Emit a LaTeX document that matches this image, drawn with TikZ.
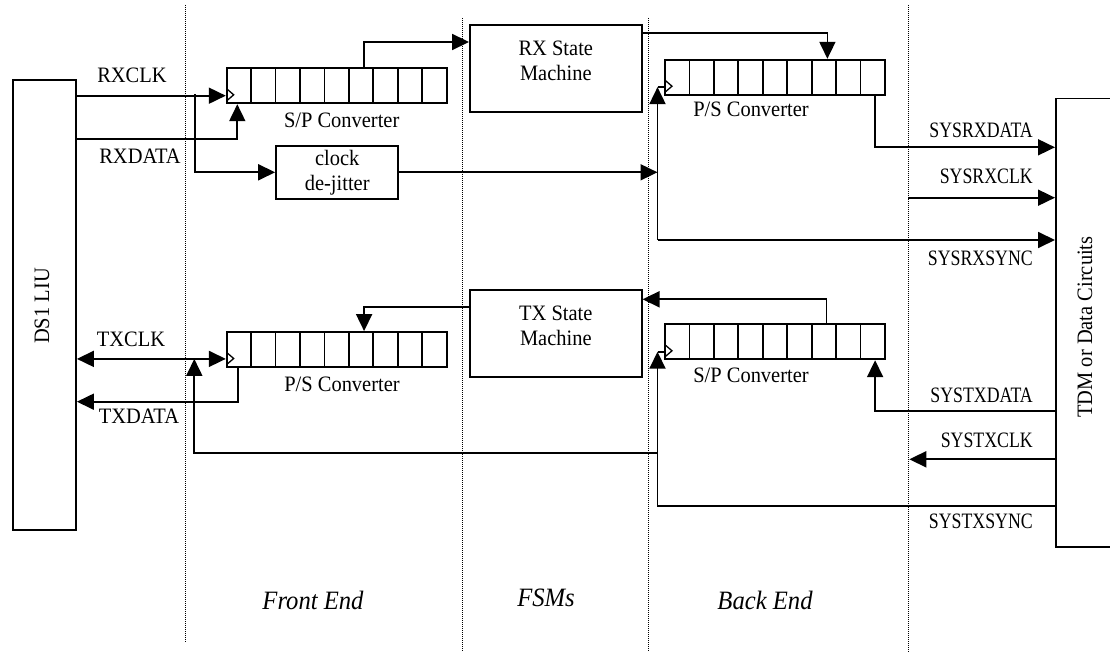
\documentclass[tikz,border=0pt]{standalone}
\usepackage{fontspec}
\setmainfont{Liberation Serif}[FakeStretch=0.93]
\usetikzlibrary{arrows.meta}
\definecolor{ink}{HTML}{000000}
\tikzset{
  lbl/.style={font=\fontsize{22}{25}\selectfont, text=ink, inner sep=0pt},
  syslbl/.style={lbl, anchor=east},
  sect/.style={font=\itshape\fontsize{26.5}{29}\selectfont, text=ink, inner sep=0pt},
  box/.style={draw=ink, line width=1.8pt, inner sep=0pt},
  reg/.style={box, minimum width=220pt, minimum height=35pt,
    path picture={
      \foreach \k in {1,...,8}
        \draw[line width=1.8pt] ([xshift=\k*220pt/9]path picture bounding box.south west) -- ([xshift=\k*220pt/9]path picture bounding box.north west);
      \draw[line width=1.3pt] ([yshift=2.5pt]path picture bounding box.south west) -- ([xshift=7pt,yshift=8.5pt]path picture bounding box.south west) -- ([yshift=14.5pt]path picture bounding box.south west);
    }},
  wire/.style={draw=ink, line width=1.8pt},
  sig/.style={wire, -{Triangle[length=17pt,width=16pt]}},
  both/.style={wire, {Triangle[length=17pt,width=16pt]}-{Triangle[length=17pt,width=16pt]}},
  zone/.style={draw=ink, line width=0.9pt, dash pattern=on 1pt off 1pt}
}
\newcommand{\cond}[1]{\scalebox{0.87}[1]{#1}}

\begin{document}
\begin{tikzpicture}[x=1pt,y=-1pt]
\useasboundingbox (0,0) rectangle (1110,652);

% zone dividers
\draw[zone] (185.7,5) -- (185.7,643);
\draw[zone] (462.5,18) -- (462.5,652);
\draw[zone] (648.7,18) -- (648.7,652);
\draw[zone] (908.3,5) -- (908.3,652);

% line side and system side
\node[box, minimum width=63pt, minimum height=450pt] (ds1) at (44.5,305) {};
\node[lbl, rotate=90] (ds1txt) at (42,306) {DS1 LIU};
\node[box, anchor=north west, minimum width=80pt, minimum height=448.3pt] (tdm) at (1055,97.7) {};
\node[lbl, rotate=90] (tdmtxt) at (1085,327) {TDM or Data Circuits};

% shift registers
\node[reg] (rxsp) at (336.7,85.8) {};
\node[reg] (rxps) at (775,77.2) {};
\node[reg] (txps) at (336.7,349.5) {};
\node[reg] (txsp) at (775,341.8) {};
\node[lbl] (rxsplbl) at (341.7,120) {S/P Converter};
\node[lbl] (rxpslbl) at (751,109) {P/S Converter};
\node[lbl] (txpslbl) at (342,384) {P/S Converter};
\node[lbl] (txsplbl) at (751,375) {S/P Converter};

% state machines and de-jitter
\node[box, minimum width=171.7pt, minimum height=86.7pt] (rxsm) at (555.8,68.3) {};
\node[lbl, align=center] (rxsmtxt) at (555.8,61) {RX State\\Machine};
\node[box, minimum width=171.7pt, minimum height=87.3pt] (txsm) at (555.8,333.7) {};
\node[lbl, align=center] (txsmtxt) at (555.8,325.5) {TX State\\Machine};
\node[box, lbl, minimum width=122.3pt, minimum height=53.3pt, align=center] (jit) at (337.2,172.3) {clock\\de-jitter};

% pins and bends
\coordinate (rxspclk) at ([yshift=8.5pt]rxsp.south west);
\coordinate (rxpsclk) at ([yshift=8.5pt]rxps.south west);
\coordinate (txpsclk) at ([yshift=9pt]txps.south west);
\coordinate (txspclk) at ([yshift=8.5pt]txsp.south west);
\coordinate (rxtap) at (195,94.3);
\coordinate (rxdbend) at (237.3,139);
\coordinate (rxbus) at (657.5,240);
\coordinate (rxclkfree) at (908.3,197.7);
\coordinate (txdbend) at (238.3,401.7);
\coordinate (txtap) at (657.5,452.7);
\coordinate (txup) at (194.3,452.7);
\coordinate (txbus) at (657.5,506);
\coordinate (txclkfree) at (909.3,459.3);
\coordinate (sysrxdata) at (1055,147.3);
\coordinate (sysrxclk) at (1055,197.7);
\coordinate (systxdata) at (1055,411);
\coordinate (systxclk) at (1055,459.3);
\coordinate (systxsync) at (1055,506);

% receive path
\draw[sig] (ds1.east |- rxspclk) -- (rxspclk);
\draw[sig] (ds1.east |- rxdbend) -| (rxsp.south west -| rxdbend);
\draw[sig] (rxtap) |- (jit.west);
\draw[sig] (jit.east) -- (jit.east -| rxbus);
\draw[sig] (rxbus) -- (rxbus |- rxpsclk);
\draw[wire] (rxbus |- rxpsclk) -- (rxpsclk);
\draw[sig] (rxbus) -- (rxbus -| tdm.west);
\draw[sig] ([xshift=138.3pt]rxsp.north west) |- ([yshift=26.3pt]rxsm.west);
\draw[sig] ([yshift=35pt]rxsm.east) -| ([xshift=163.3pt]rxps.north west);
\draw[sig] ([xshift=211pt]rxps.south west) |- (sysrxdata);
\draw[sig] (rxclkfree) -- (sysrxclk);

% transmit path
\draw[both] (ds1.east |- txpsclk) -- (txpsclk);
\draw[sig] (txps.south west -| txdbend) |- (ds1.east |- txdbend);
\draw[sig] ([yshift=26.4pt]txsm.west) -| ([xshift=138.3pt]txps.north west);
\draw[sig] ([xshift=162.3pt]txsp.north west) |- ([yshift=34.4pt]txsm.east);
\draw[sig] (systxdata) -| ([xshift=211pt]txsp.south west);
\draw[sig] (systxclk) -- (txclkfree);
\draw[sig] (systxsync) -- (txbus) -- (txbus |- txspclk);
\draw[wire] (txbus |- txspclk) -- (txspclk);
\draw[sig] (txtap) -- (txup) -- (txup |- txpsclk);

% signal names
\node[lbl] (rxclklbl) at (132,75) {RXCLK};
\node[lbl] (rxdatalbl) at (140,156.7) {RXDATA};
\node[lbl] (txclklbl) at (131,339.3) {TXCLK};
\node[lbl] (txdatalbl) at (139,416.7) {TXDATA};
\node[syslbl] (sysrxdatalbl) at (1033,130) {\cond{SYSRXDATA}};
\node[syslbl] (sysrxclklbl) at (1033,176.7) {\cond{SYSRXCLK}};
\node[syslbl] (sysrxsynclbl) at (1033,258) {\cond{SYSRXSYNC}};
\node[syslbl] (systxdatalbl) at (1033,395) {\cond{SYSTXDATA}};
\node[syslbl] (systxclklbl) at (1033,440) {\cond{SYSTXCLK}};
\node[syslbl] (systxsynclbl) at (1033,521.7) {\cond{SYSTXSYNC}};

% zone names
\node[sect] (frontlbl) at (313,600) {Front End};
\node[sect] (fsmlbl) at (546,598) {FSMs};
\node[sect] (backlbl) at (765,600) {Back End};

\end{tikzpicture}
\end{document}
